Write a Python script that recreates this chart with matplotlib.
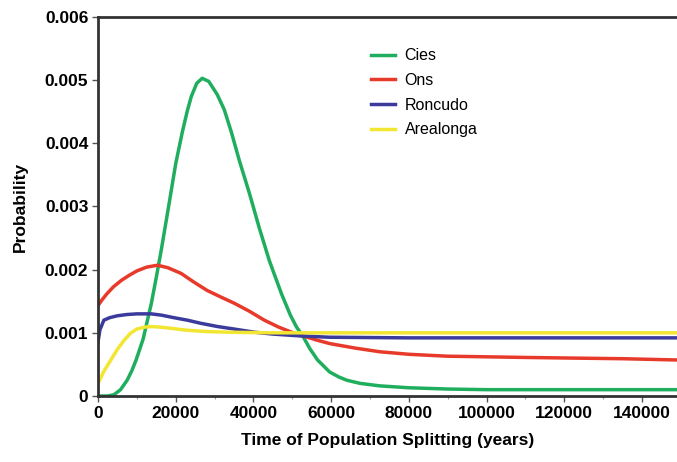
import matplotlib.pyplot as plt
from matplotlib.ticker import MultipleLocator

plt.rcParams.update({'font.family': ['Liberation Sans', 'DejaVu Sans']})

# values (years, probability)
cies_x = [0, 2500, 4100, 5800, 7500, 8700, 9800, 11600, 13700, 15000, 16300, 18300,
          20000, 21700, 23000, 24000, 25400, 26800, 28500, 30700, 32500, 34300, 36400,
          39000, 41500, 44100, 47200, 49500, 51100, 52600, 54500, 56500, 59600, 62000,
          64000, 67400, 72500, 80000, 90000, 100000, 115000, 130000, 149000]
cies_y = [0.0, 0.0, 0.00002, 0.0001, 0.00025, 0.0004, 0.00057, 0.0009, 0.00146, 0.00188,
          0.00232, 0.00305, 0.00368, 0.00418, 0.00452, 0.00474, 0.00495, 0.00503, 0.00498,
          0.00477, 0.00453, 0.00418, 0.00372, 0.0032, 0.00266, 0.00214, 0.00162, 0.00128,
          0.00109, 0.00096, 0.00075, 0.00057, 0.00038, 0.0003, 0.00025, 0.0002, 0.00016,
          0.00013, 0.00011, 0.0001, 0.0001, 0.0001, 0.0001]

ons_x = [0, 1000, 2300, 4000, 6000, 8000, 10000, 12500, 15300, 18000, 21400, 24500,
         28100, 31500, 35000, 39000, 42800, 46500, 49800, 52300, 56000, 59600, 66000,
         72500, 80000, 89800, 100000, 110000, 122000, 135000, 149000]
ons_y = [0.00143, 0.00152, 0.00162, 0.00173, 0.00183, 0.00191, 0.00198, 0.00204, 0.00207,
         0.00203, 0.00194, 0.00181, 0.00167, 0.00157, 0.00147, 0.00134, 0.0012, 0.00109,
         0.00101, 0.00096, 0.00089, 0.00083, 0.00076, 0.0007, 0.00066, 0.00063, 0.00062,
         0.00061, 0.0006, 0.00059, 0.00057]

roncudo_x = [0, 500, 1500, 3000, 5000, 7500, 10000, 13700, 16300, 19500, 23000, 26500,
             30700, 35000, 40200, 45000, 49800, 52300, 59600, 80000, 100000, 120000, 149000]
roncudo_y = [0.00086, 0.00105, 0.0012, 0.00124, 0.00127, 0.00129, 0.0013, 0.0013, 0.00128,
             0.00124, 0.0012, 0.00115, 0.00110, 0.00106, 0.00101, 0.00098, 0.00096,
             0.00095, 0.00093, 0.00092, 0.00092, 0.00092, 0.00092]

arealonga_x = [0, 1500, 3300, 5000, 6700, 8300, 10000, 12000, 13700, 16000, 19000, 23000,
               28000, 33300, 45000, 60000, 90000, 120000, 149000]
arealonga_y = [0.0002, 0.00039, 0.00057, 0.00074, 0.00088, 0.00099, 0.00106, 0.00109,
               0.0011, 0.00109, 0.00107, 0.00104, 0.00102, 0.00101, 0.001, 0.001, 0.001,
               0.001, 0.001]

labels = ['Cies', 'Ons', 'Roncudo', 'Arealonga']
colors = ['#1fae5e', '#e83a2a', '#3b3b9e', '#f2e632']

fig = plt.figure(figsize=(6.77, 4.62), dpi=100)
ax = fig.add_axes([0.1448, 0.1429, 0.8552, 0.8203])

series = [(cies_x, cies_y), (ons_x, ons_y), (roncudo_x, roncudo_y), (arealonga_x, arealonga_y)]
for (xs, ys), lab, col in zip(series, labels, colors):
    ax.plot(xs, ys, color=col, lw=2.5, label=lab, solid_joinstyle='round')

ax.set_xlim(0, 149000)
ax.set_ylim(0, 0.006)
ax.xaxis.set_major_locator(MultipleLocator(20000))
ax.xaxis.set_minor_locator(MultipleLocator(10000))
ax.set_yticks([0, 0.001, 0.002, 0.003, 0.004, 0.005, 0.006])
ax.set_yticklabels(['0', '0.001', '0.002', '0.003', '0.004', '0.005', '0.006'])

for lab in ax.get_xticklabels() + ax.get_yticklabels():
    lab.set_fontweight('bold')
    lab.set_fontsize(12.5)

ax.set_xlabel('Time of Population Splitting (years)', fontsize=12.5, fontweight='bold', labelpad=9)
ax.set_ylabel('Probability', fontsize=12.5, fontweight='bold', labelpad=12)

ax.spines['right'].set_visible(False)
for s in ['left', 'bottom', 'top']:
    ax.spines[s].set_color('#333333')
    ax.spines[s].set_linewidth(2)
ax.tick_params(which='major', length=4, width=1, color='#555555', pad=3)
ax.tick_params(which='minor', length=2, width=0.8, color='#999999')

leg = ax.legend(loc='upper left', bbox_to_anchor=(0.447, 0.955), frameon=False,
                fontsize=11.5, handlelength=1.5, labelspacing=0.6, handletextpad=0.6)

fig.savefig('out.png', dpi=100)
